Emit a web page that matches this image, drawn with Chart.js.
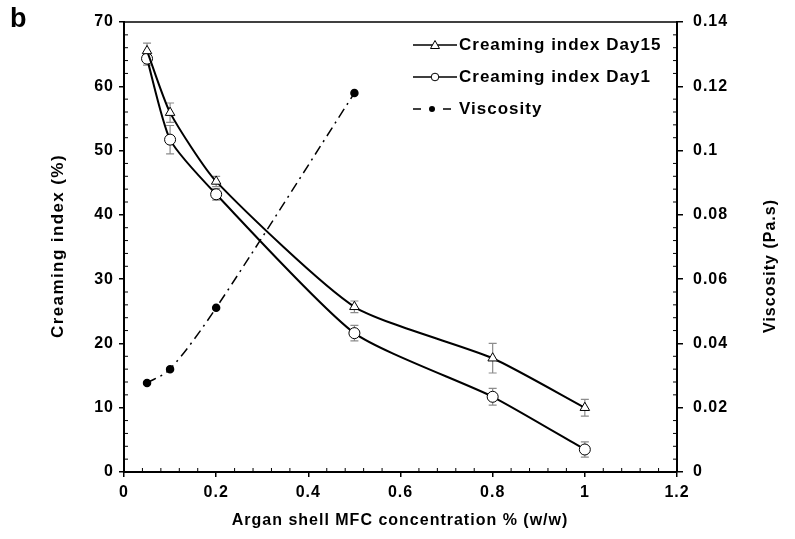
<!DOCTYPE html>
<html>
<head>
<meta charset="utf-8">
<script src="https://cdn.jsdelivr.net/npm/chart.js@4.4.1/dist/chart.umd.min.js"></script>
<style>
  html, body { margin: 0; padding: 0; background: #fff; }
</style>
</head>
<body>
<canvas id="chart" width="795" height="539"></canvas>
<script>
// values
const concentration = [0.05, 0.1, 0.2, 0.5, 0.8, 1];
const creamDay15 = [65.5, 55.9, 45.2, 25.7, 17.7, 10.0];
const creamDay15Err = [1.2, 1.5, 0.8, 0.9, 2.3, 1.3];
const creamDay1 = [64.3, 51.7, 43.2, 21.6, 11.7, 3.5];
const creamDay1Err = [1.0, 2.2, 0.9, 1.2, 1.3, 1.2];
const viscConcentration = [0.05, 0.1, 0.2, 0.5];
const viscosity = [0.0277, 0.032, 0.0511, 0.1179];

const xTicks = [0, 0.2, 0.4, 0.6, 0.8, 1, 1.2];
const leftTicks = [0, 10, 20, 30, 40, 50, 60, 70];
const rightTicks = [0, 0.02, 0.04, 0.06, 0.08, 0.1, 0.12, 0.14];

const FONT = '"Liberation Sans", Arial, Helvetica, sans-serif';
const SPACING = '1px';

function toPoints(xs, ys) {
  return xs.map((x, i) => ({ x: x, y: ys[i] }));
}

// error bars behind the markers
const errorBars = {
  id: 'errorBars',
  beforeDatasetsDraw(chart) {
    const { ctx, scales } = chart;
    ctx.save();
    ctx.strokeStyle = '#8c8c8c';
    ctx.lineWidth = 1.2;
    [[creamDay15, creamDay15Err], [creamDay1, creamDay1Err]].forEach(([vals, errs]) => {
      vals.forEach((v, i) => {
        const x = scales.x.getPixelForValue(concentration[i]);
        const lo = scales.y.getPixelForValue(v - errs[i]);
        const hi = scales.y.getPixelForValue(v + errs[i]);
        ctx.beginPath();
        ctx.moveTo(x, lo); ctx.lineTo(x, hi);
        ctx.moveTo(x - 4, lo); ctx.lineTo(x + 4, lo);
        ctx.moveTo(x - 4, hi); ctx.lineTo(x + 4, hi);
        ctx.stroke();
      });
    });
    ctx.restore();
  }
};

// letter spacing, minor ticks, top frame, titles and legend
const decorations = {
  id: 'decorations',
  beforeDraw(chart) {
    chart.ctx.letterSpacing = SPACING;
  },
  afterDraw(chart) {
    const { ctx, chartArea, scales } = chart;
    const { left, right, top, bottom } = chartArea;
    ctx.save();
    ctx.strokeStyle = '#000';
    ctx.lineWidth = 1.5;

    // top frame line
    ctx.beginPath();
    ctx.moveTo(left, top); ctx.lineTo(right, top);
    ctx.stroke();

    // minor ticks, pointing inward
    ctx.lineWidth = 1;
    ctx.beginPath();
    for (let k = 1; k < 30; k++) {
      if (k % 5 === 0) continue;
      const x = scales.x.getPixelForValue(k * 0.04);
      ctx.moveTo(x, bottom); ctx.lineTo(x, bottom - 4);
    }
    for (let k = 1; k < 35; k++) {
      if (k % 5 === 0) continue;
      const y = scales.y.getPixelForValue(k * 2);
      ctx.moveTo(left, y); ctx.lineTo(left + 4, y);
      const y2 = scales.y2.getPixelForValue(k * 0.004);
      ctx.moveTo(right, y2); ctx.lineTo(right - 4, y2);
    }
    ctx.stroke();

    // axis titles
    ctx.fillStyle = '#000';
    ctx.font = 'bold 16px ' + FONT;
    ctx.textAlign = 'center';
    ctx.textBaseline = 'middle';
    ctx.fillText('Argan shell MFC concentration % (w/w)', 400, 521);

    ctx.save();
    ctx.font = 'bold 17px ' + FONT;
    ctx.letterSpacing = '1.4px';
    ctx.translate(58, 246);
    ctx.rotate(-Math.PI / 2);
    ctx.fillText('Creaming index (%)', 0, 0);
    ctx.restore();

    ctx.save();
    ctx.translate(771, 266);
    ctx.rotate(-Math.PI / 2);
    ctx.fillText('Viscosity (Pa.s)', 0, 0);
    ctx.restore();

    // panel letter
    ctx.textAlign = 'left';
    ctx.textBaseline = 'alphabetic';
    ctx.font = 'bold 27px ' + FONT;
    ctx.fillText('b', 10, 27);

    // legend
    const lx0 = 413, lx1 = 457, mx = 435, tx = 459;
    const rows = [45, 77, 109];
    ctx.font = 'bold 17px ' + FONT;
    ctx.letterSpacing = '1px';
    ctx.textBaseline = 'middle';
    ctx.lineWidth = 1.5;

    ctx.beginPath();
    ctx.moveTo(lx0, rows[0]); ctx.lineTo(lx1, rows[0]);
    ctx.moveTo(lx0, rows[1]); ctx.lineTo(lx1, rows[1]);
    ctx.stroke();

    ctx.lineWidth = 1;
    ctx.fillStyle = '#fff';
    ctx.beginPath();
    ctx.moveTo(mx, rows[0] - 4.5);
    ctx.lineTo(mx + 4.5, rows[0] + 3.5);
    ctx.lineTo(mx - 4.5, rows[0] + 3.5);
    ctx.closePath();
    ctx.fill(); ctx.stroke();
    ctx.beginPath();
    ctx.arc(mx, rows[1], 3.8, 0, Math.PI * 2);
    ctx.fill(); ctx.stroke();

    ctx.lineWidth = 1.5;
    ctx.beginPath();
    ctx.moveTo(413, rows[2]); ctx.lineTo(421, rows[2]);
    ctx.moveTo(443, rows[2]); ctx.lineTo(451, rows[2]);
    ctx.stroke();
    ctx.fillStyle = '#000';
    ctx.beginPath();
    ctx.arc(432, rows[2], 3, 0, Math.PI * 2);
    ctx.fill();

    ctx.fillText('Creaming index Day15', tx, rows[0]);
    ctx.fillText('Creaming index Day1', tx, rows[1]);
    ctx.fillText('Viscosity', tx, rows[2]);
    ctx.restore();
  }
};

Chart.defaults.font.family = FONT;
Chart.defaults.font.weight = 'bold';
Chart.defaults.font.size = 16;
Chart.defaults.color = '#000';

new Chart(document.getElementById('chart'), {
  type: 'scatter',
  data: {
    datasets: [
      {
        label: 'Creaming index Day15',
        data: toPoints(concentration, creamDay15),
        showLine: true,
        borderColor: '#000',
        borderWidth: 2,
        tension: 0.2,
        pointStyle: 'triangle',
        pointRadius: 5.5,
        pointBackgroundColor: '#fff',
        pointBorderColor: '#000',
        pointBorderWidth: 1,
        yAxisID: 'y'
      },
      {
        label: 'Creaming index Day1',
        data: toPoints(concentration, creamDay1),
        showLine: true,
        borderColor: '#000',
        borderWidth: 2,
        tension: 0.2,
        pointStyle: 'circle',
        pointRadius: 5.5,
        pointBackgroundColor: '#fff',
        pointBorderColor: '#000',
        pointBorderWidth: 1,
        yAxisID: 'y'
      },
      {
        label: 'Viscosity',
        data: toPoints(viscConcentration, viscosity),
        showLine: true,
        borderColor: '#000',
        borderWidth: 1.5,
        borderDash: [10, 5, 2, 5],
        tension: 0.3,
        pointStyle: 'circle',
        pointRadius: 3.5,
        pointBackgroundColor: '#000',
        pointBorderColor: '#000',
        yAxisID: 'y2'
      }
    ]
  },
  options: {
    responsive: false,
    animation: false,
    layout: { padding: { top: 22, left: 0, right: 0, bottom: 0 } },
    plugins: {
      legend: { display: false },
      tooltip: { enabled: false }
    },
    scales: {
      x: {
        type: 'linear',
        min: 0,
        max: 1.2,
        afterBuildTicks: s => { s.ticks = xTicks.map(v => ({ value: v })); },
        afterFit: s => { s.height = 67; },
        ticks: { padding: 6, callback: v => String(v) },
        grid: { drawOnChartArea: false, tickLength: 5, color: '#000', lineWidth: 1.5 },
        border: { color: '#000', width: 2 }
      },
      y: {
        type: 'linear',
        position: 'left',
        min: 0,
        max: 70,
        afterBuildTicks: s => { s.ticks = leftTicks.map(v => ({ value: v })); },
        afterFit: s => { s.width = 124; },
        ticks: { padding: 5, callback: v => String(v) },
        grid: { drawOnChartArea: false, tickLength: 5, color: '#000', lineWidth: 1.5 },
        border: { color: '#000', width: 2 }
      },
      y2: {
        type: 'linear',
        position: 'right',
        min: 0,
        max: 0.14,
        afterBuildTicks: s => { s.ticks = rightTicks.map(v => ({ value: v })); },
        afterFit: s => { s.width = 118; },
        ticks: { padding: 10, callback: v => String(v) },
        grid: { drawOnChartArea: false, tickLength: 6, color: '#000', lineWidth: 1.5 },
        border: { color: '#000', width: 2 }
      }
    }
  },
  plugins: [errorBars, decorations]
});
</script>
</body>
</html>
